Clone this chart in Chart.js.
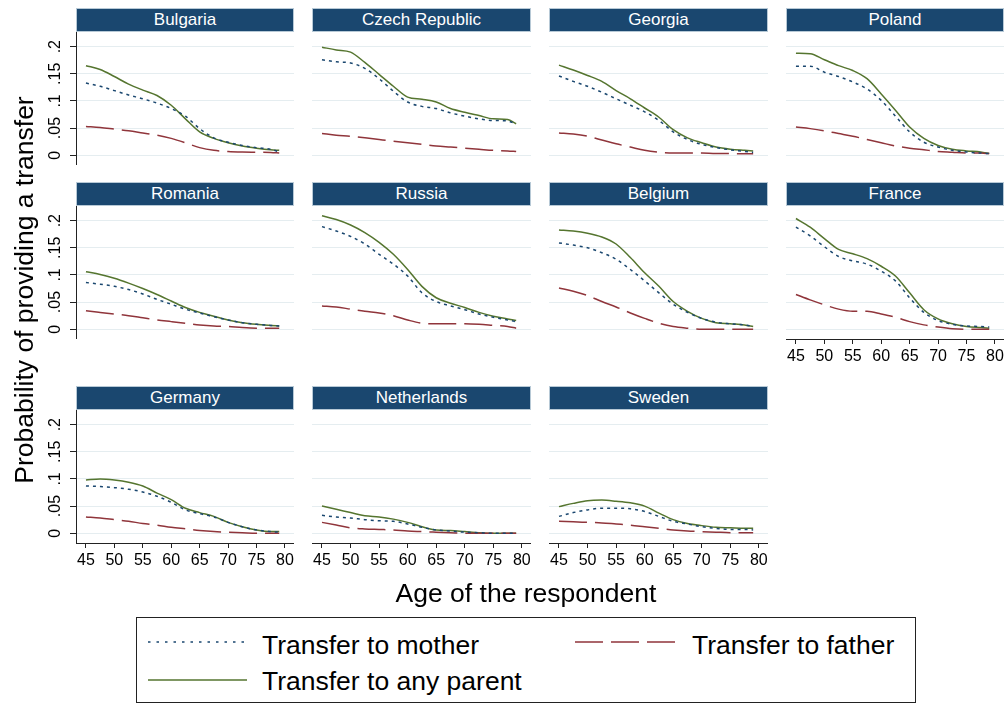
<!DOCTYPE html>
<html><head><meta charset="utf-8">
<script src="https://cdn.jsdelivr.net/npm/chart.js@4.4.1/dist/chart.umd.min.js"></script>
<style>
body{margin:0;background:#fff;width:1005px;height:704px;overflow:hidden;position:relative;font-family:"Liberation Sans",Arial,Helvetica,sans-serif;}
.hdr{position:absolute;height:24px;box-sizing:border-box;background:#1a476f;border:1px solid #b7c9d6;color:#fff;font-size:17px;line-height:22px;text-align:center;white-space:nowrap;}
canvas{position:absolute;}
.ttl{position:absolute;font-size:26.5px;line-height:30px;color:#000;text-align:center;white-space:nowrap;}
#legend{position:absolute;left:136px;top:617px;width:780px;height:86px;box-sizing:border-box;border:1px solid #222;}
.ltxt{position:absolute;font-size:26.5px;line-height:30px;color:#000;white-space:nowrap;}
svg{position:absolute;left:0;top:0;}
</style></head>
<body>
<script>
// ---- data ----
const countries = ['Bulgaria','Czech Republic','Georgia','Poland','Romania','Russia','Belgium','France','Germany','Netherlands','Sweden'];
const ages = [45,47.5,50,52.5,55,57.5,60,62.5,65,67.5,70,72.5,75,77.5,79];
const xTicks = [45,50,55,60,65,70,75,80];
const yTickValues = [0,0.05,0.1,0.15,0.2];
const yTickLabels = ['0','.05','.1','.15','.2'];
const seriesNames = ['Transfer to mother','Transfer to father','Transfer to any parent'];

const bulgariaMother = [0.133,0.127,0.119,0.111,0.104,0.096,0.086,0.072,0.049,0.032,0.024,0.018,0.014,0.011,0.006];
const bulgariaFather = [0.053,0.051,0.048,0.045,0.041,0.037,0.031,0.023,0.014,0.009,0.007,0.006,0.0055,0.005,0.004];
const bulgariaAny    = [0.165,0.158,0.145,0.131,0.120,0.110,0.092,0.067,0.043,0.031,0.023,0.017,0.013,0.010,0.009];

const czechMother = [0.176,0.172,0.170,0.160,0.141,0.118,0.098,0.090,0.086,0.078,0.072,0.067,0.064,0.063,0.058];
const czechFather = [0.040,0.037,0.035,0.032,0.029,0.026,0.023,0.020,0.017,0.015,0.013,0.011,0.009,0.008,0.007];
const czechAny    = [0.199,0.194,0.190,0.171,0.149,0.127,0.107,0.103,0.098,0.086,0.079,0.073,0.067,0.066,0.058];

const georgiaMother = [0.146,0.136,0.127,0.116,0.104,0.092,0.080,0.064,0.043,0.029,0.020,0.014,0.010,0.007,0.005];
const georgiaFather = [0.041,0.039,0.035,0.028,0.021,0.015,0.009,0.0055,0.004,0.004,0.004,0.003,0.003,0.0025,0.0025];
const georgiaAny    = [0.166,0.157,0.147,0.136,0.119,0.104,0.087,0.070,0.047,0.032,0.023,0.015,0.011,0.009,0.008];

const polandMother = [0.164,0.164,0.153,0.145,0.135,0.122,0.101,0.072,0.043,0.024,0.015,0.009,0.006,0.004,0.003];
const polandFather = [0.052,0.049,0.045,0.040,0.035,0.029,0.023,0.017,0.013,0.010,0.007,0.0055,0.004,0.004,0.003];
const polandAny    = [0.188,0.187,0.176,0.165,0.156,0.141,0.113,0.083,0.052,0.031,0.018,0.011,0.008,0.006,0.003];

const romaniaMother = [0.086,0.083,0.079,0.073,0.065,0.055,0.046,0.037,0.030,0.023,0.017,0.012,0.009,0.007,0.006];
const romaniaFather = [0.034,0.031,0.028,0.025,0.021,0.017,0.014,0.011,0.008,0.006,0.005,0.003,0.002,0.002,0.002];
const romaniaAny    = [0.106,0.101,0.094,0.085,0.075,0.064,0.052,0.040,0.031,0.024,0.017,0.012,0.009,0.007,0.006];

const russiaMother = [0.189,0.181,0.171,0.157,0.138,0.120,0.098,0.067,0.051,0.043,0.036,0.028,0.022,0.017,0.014];
const russiaFather = [0.043,0.041,0.037,0.033,0.030,0.025,0.017,0.011,0.010,0.010,0.010,0.009,0.007,0.005,0.002];
const russiaAny    = [0.209,0.202,0.192,0.178,0.160,0.138,0.110,0.079,0.058,0.048,0.040,0.031,0.024,0.019,0.016];

const belgiumMother = [0.159,0.155,0.150,0.141,0.129,0.110,0.089,0.067,0.046,0.031,0.020,0.013,0.010,0.008,0.005];
const belgiumFather = [0.076,0.070,0.062,0.051,0.041,0.030,0.020,0.011,0.005,0.002,0.000,0.000,0.000,0.000,0.000];
const belgiumAny    = [0.183,0.181,0.177,0.170,0.157,0.132,0.104,0.079,0.051,0.033,0.020,0.012,0.010,0.008,0.005];

const franceMother = [0.188,0.172,0.152,0.134,0.126,0.120,0.107,0.089,0.058,0.031,0.016,0.009,0.006,0.005,0.004];
const franceFather = [0.064,0.054,0.045,0.037,0.033,0.033,0.028,0.022,0.014,0.008,0.004,0.001,0.000,0.000,0.000];
const franceAny    = [0.204,0.188,0.167,0.147,0.139,0.130,0.116,0.098,0.067,0.036,0.019,0.010,0.005,0.003,0.002];

const germanyMother = [0.087,0.086,0.084,0.081,0.076,0.068,0.057,0.043,0.036,0.030,0.020,0.012,0.006,0.003,0.002];
const germanyFather = [0.030,0.028,0.025,0.022,0.018,0.015,0.011,0.008,0.005,0.003,0.002,0.001,0.000,0.000,0.000];
const germanyAny    = [0.098,0.100,0.098,0.094,0.087,0.074,0.062,0.046,0.038,0.031,0.020,0.012,0.006,0.003,0.003];

const netherlandsMother = [0.033,0.030,0.028,0.025,0.023,0.022,0.017,0.011,0.006,0.004,0.002,0.001,0.000,0.000,0.000];
const netherlandsFather = [0.020,0.015,0.010,0.008,0.007,0.006,0.004,0.003,0.002,0.001,0.000,0.000,0.000,0.000,0.000];
const netherlandsAny    = [0.050,0.044,0.038,0.032,0.030,0.026,0.020,0.012,0.006,0.005,0.003,0.001,0.000,0.000,0.000];

const swedenMother = [0.031,0.038,0.043,0.046,0.046,0.045,0.040,0.031,0.022,0.017,0.012,0.009,0.007,0.007,0.006];
const swedenFather = [0.022,0.021,0.020,0.019,0.017,0.015,0.012,0.009,0.006,0.004,0.003,0.002,0.001,0.001,0.001];
const swedenAny    = [0.049,0.055,0.060,0.061,0.059,0.056,0.050,0.037,0.025,0.018,0.014,0.011,0.010,0.009,0.009];

const panelSeries = [
  [bulgariaMother,bulgariaFather,bulgariaAny],
  [czechMother,czechFather,czechAny],
  [georgiaMother,georgiaFather,georgiaAny],
  [polandMother,polandFather,polandAny],
  [romaniaMother,romaniaFather,romaniaAny],
  [russiaMother,russiaFather,russiaAny],
  [belgiumMother,belgiumFather,belgiumAny],
  [franceMother,franceFather,franceAny],
  [germanyMother,germanyFather,germanyAny],
  [netherlandsMother,netherlandsFather,netherlandsAny],
  [swedenMother,swedenFather,swedenAny]
];

// ---- styling / layout ----
const FONT = '"Liberation Sans", Arial, Helvetica, sans-serif';
const colors = ['#1a476f','#90353b','#55752f'];
const dashes = [[3,4],[28,8],[]];
const colLeft = [76,312,549,786], colW = [218,219,219,218];
const rowTop = [32,206,410], plotH = 133, hdrH = 24;
const xMin = 43.25, xMax = 81.6, yMin = -0.018, yMax = 0.227;

countries.forEach((name, i) => {
  const row = Math.floor(i/4), col = i%4;
  const hasY = col === 0;
  const hasX = row === 2 || (row === 1 && col === 3);
  const yW = hasY ? 60 : 0;
  const xH = hasX ? 36 : 0;

  const hdr = document.createElement('div');
  hdr.className = 'hdr';
  hdr.style.left = colLeft[col] + 'px';
  hdr.style.top = (rowTop[row] - hdrH) + 'px';
  hdr.style.width = colW[col] + 'px';
  hdr.textContent = name;
  document.body.appendChild(hdr);

  const cv = document.createElement('canvas');
  cv.width = colW[col] + yW;
  cv.height = plotH + xH;
  cv.style.left = (colLeft[col] - yW) + 'px';
  cv.style.top = rowTop[row] + 'px';
  document.body.appendChild(cv);

  const datasets = panelSeries[i].map((vals, k) => ({
    label: seriesNames[k],
    data: ages.map((a, j) => ({x: a, y: vals[j]})),
    borderColor: colors[k],
    borderDash: dashes[k],
    borderWidth: 1.5,
    pointRadius: 0,
    fill: false,
    cubicInterpolationMode: 'monotone'
  }));

  new Chart(cv, {
    type: 'line',
    data: {datasets},
    options: {
      responsive: false, animation: false, devicePixelRatio: 1,
      layout: {padding: 0},
      plugins: {legend: {display: false}, tooltip: {enabled: false}, title: {display: false}},
      scales: {
        x: {
          type: 'linear', min: xMin, max: xMax, display: hasX,
          afterBuildTicks: s => { s.ticks = xTicks.map(v => ({value: v})); },
          afterFit: s => { s.height = xH; s.paddingLeft = 0; s.paddingRight = 0; },
          grid: {display: true, drawOnChartArea: false, drawTicks: true, tickLength: 5, tickColor: '#222', lineWidth: 1},
          border: {display: true, color: '#222', width: 1},
          ticks: {autoSkip: false, maxRotation: 0, minRotation: 0, padding: 3, color: '#000', font: {family: FONT, size: 16}}
        },
        y: {
          type: 'linear', min: yMin, max: yMax, display: true,
          afterBuildTicks: s => { s.ticks = yTickValues.map(v => ({value: v})); },
          afterFit: s => { s.width = yW; s.paddingTop = 0; s.paddingBottom = 0; },
          grid: {color: '#e5edf0', lineWidth: 1, drawTicks: hasY, tickLength: 6, tickColor: '#222'},
          border: {display: hasY, color: '#222', width: 1},
          ticks: {display: hasY, minRotation: 90, maxRotation: 90, crossAlign: 'center', padding: 3, color: '#000',
                  font: {family: FONT, size: 16},
                  callback: (v, idx) => yTickLabels[idx]}
        }
      }
    }
  });
});

// axis titles
const yt = document.createElement('div');
yt.className = 'ttl';
yt.style.width = '500px'; yt.style.left = (24 - 250) + 'px'; yt.style.top = (290 - 15) + 'px';
yt.style.transform = 'rotate(-90deg)';
yt.textContent = 'Probability of providing a transfer';
document.body.appendChild(yt);

const xt = document.createElement('div');
xt.className = 'ttl';
xt.style.width = '600px'; xt.style.left = (526 - 300) + 'px'; xt.style.top = '578px';
xt.textContent = 'Age of the respondent';
document.body.appendChild(xt);

// legend
const lg = document.createElement('div'); lg.id = 'legend'; document.body.appendChild(lg);
const svgNS = 'http://www.w3.org/2000/svg';
const svg = document.createElementNS(svgNS, 'svg');
svg.setAttribute('width', '1005'); svg.setAttribute('height', '704');
const legendItems = [
  {k: 0, x1: 148, x2: 244, y: 642, tx: 262, ty: 630},
  {k: 1, x1: 575, x2: 675, y: 642, tx: 692, ty: 630},
  {k: 2, x1: 148, x2: 247, y: 680, tx: 262, ty: 666}
];
legendItems.forEach(it => {
  const ln = document.createElementNS(svgNS, 'line');
  ln.setAttribute('x1', it.x1); ln.setAttribute('x2', it.x2);
  ln.setAttribute('y1', it.y); ln.setAttribute('y2', it.y);
  ln.setAttribute('stroke', colors[it.k]); ln.setAttribute('stroke-width', '1.5');
  if (dashes[it.k].length) ln.setAttribute('stroke-dasharray', it.k === 0 ? '2.5 6' : dashes[it.k].join(' '));
  svg.appendChild(ln);
  const t = document.createElement('div'); t.className = 'ltxt';
  t.style.left = it.tx + 'px'; t.style.top = it.ty + 'px';
  t.textContent = seriesNames[it.k];
  document.body.appendChild(t);
});
document.body.appendChild(svg);
</script>
</body></html>
